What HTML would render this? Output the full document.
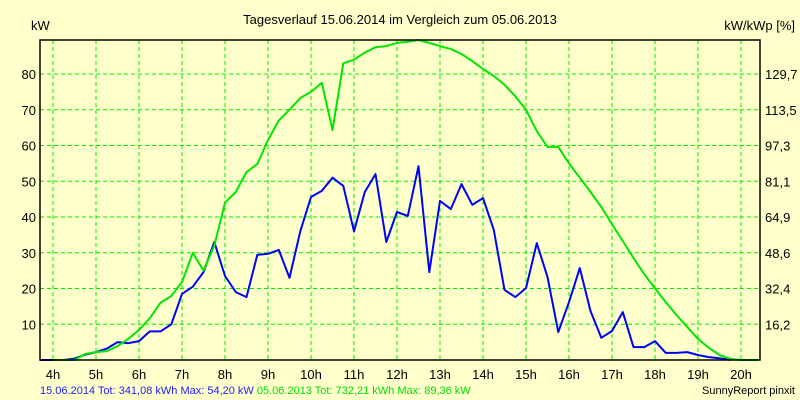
<!DOCTYPE html>
<html><head><meta charset="utf-8"><style>
body{margin:0;background:#ffffcc;}
svg{display:block;font-family:"Liberation Sans",sans-serif;}
</style></head><body>
<svg id="c" width="800" height="400">
<rect width="800" height="400" fill="#ffffcc"/>
<text x="400" y="24" font-size="13" text-anchor="middle">Tagesverlauf 15.06.2014 im Vergleich zum 05.06.2013</text>
<text x="31" y="30" font-size="13">kW</text>
<text x="795" y="30" font-size="13" text-anchor="end">kW/kWp [%]</text>
<g id="grid"></g><g id="series"></g><g id="axes"></g>
<text x="40" y="394" font-size="11"><tspan fill="#2020ff">15.06.2014 Tot: 341,08 kWh Max: 54,20 kW </tspan><tspan fill="#00dd00">05.06.2013 Tot: 732,21 kWh Max: 89,36 kW</tspan></text>
<text x="795" y="394" font-size="11" text-anchor="end">SunnyReport pinxit</text>
</svg>
<script>
const yTicks=[10,20,30,40,50,60,70,80];
const yRightLabels=["16,2","32,4","48,6","64,9","81,1","97,3","113,5","129,7"];
const xTicks=[4,5,6,7,8,9,10,11,12,13,14,15,16,17,18,19,20];
const blueTimes=[3.7,4,4.25,4.5,4.75,5,5.25,5.5,5.75,6,6.25,6.5,6.75,7,7.25,7.5,7.75,8,8.25,8.5,8.75,9,9.25,9.5,9.75,10,10.25,10.5,10.75,11,11.25,11.5,11.75,12,12.25,12.5,12.75,13,13.25,13.5,13.75,14,14.25,14.5,14.75,15,15.25,15.5,15.75,16,16.25,16.5,16.75,17,17.25,17.5,17.75,18,18.25,18.5,18.75,19,19.25,19.5,19.75];
const blueValues=[0,0,0,0.4,1.5,2.2,3.2,5,4.7,5.3,8,8,10,18.5,20.5,24.6,33,23.5,19,17.6,29.4,29.7,30.8,23,36,45.6,47.3,51,48.7,36,47,52,33,41.4,40.3,54.2,24.6,44.5,42.2,49.2,43.4,45.3,36.4,19.6,17.6,20.1,32.7,23.2,7.8,16.2,25.7,13.7,6.2,8.1,13.4,3.6,3.6,5.3,2,2,2.2,1.4,0.8,0.5,0];
const greenTimes=[4,4.25,4.5,4.75,5,5.25,5.5,5.75,6,6.25,6.5,6.75,7,7.25,7.5,7.75,8,8.25,8.5,8.75,9,9.25,9.5,9.75,10,10.25,10.5,10.75,11,11.25,11.5,11.75,12,12.25,12.5,12.75,13,13.25,13.5,13.75,14,14.25,14.5,14.75,15,15.25,15.5,15.75,16,16.25,16.5,16.75,17,17.25,17.5,17.75,18,18.25,18.5,18.75,19,19.25,19.5,19.75,20,20.4];
const greenValues=[0,0,0,1.7,2.2,2.5,3.9,5.9,8.4,11.7,16,17.9,21.8,30,25,32,44,47,52.6,54.8,61.5,67,70,73.3,75,77.5,64.3,83,84,86,87.5,87.8,88.7,89,89.5,88.7,87.8,87,85.6,83.6,81.4,79.4,77,73.8,70,64,59.6,59.6,55,51,47,42.8,38,33.3,28.5,24,20,16.2,12.6,9.2,5.9,3.4,1.4,0.3,0,0];
const L=40,R=760,T=40,B=360;
const xs=h=>53+(h-4)*43;
const ys=v=>B-v*3.575;
const NS="http://www.w3.org/2000/svg";
function mk(tag,attrs,parent){const e=document.createElementNS(NS,tag);for(const k in attrs)e.setAttribute(k,attrs[k]);parent.appendChild(e);return e;}
const grid=document.getElementById('grid'),axes=document.getElementById('axes'),series=document.getElementById('series');
yTicks.forEach((v,i)=>{
 const y=ys(v);
 const g=mk('line',{x1:L,x2:R,y1:y,y2:y,stroke:'#00ee00','stroke-dasharray':'4,3'},grid);
 
 
 const t=mk('text',{x:L-4,y:y+5,'font-size':13,'text-anchor':'end'},axes);t.textContent=v;
 
 
 const t2=mk('text',{x:R+5,y:y+5,'font-size':13},axes);t2.textContent=yRightLabels[i];
 
 
});
xTicks.forEach(h=>{
 const x=xs(h);
 const g=mk('line',{x1:x,x2:x,y1:T,y2:B,stroke:'#00ee00','stroke-dasharray':'4,3'},grid);
 
 
 const t=mk('text',{x:x,y:379,'font-size':13,'text-anchor':'middle'},axes);t.textContent=h+'h';
 
 
});
const ax=mk('path',{d:`M${L},${T}H${R}V${B}H${L}Z`,fill:'none',stroke:'#000','stroke-width':1.5},axes);


function line(ts,vs,color,name){
 const p=mk('polyline',{points:ts.map((t,i)=>xs(t).toFixed(1)+','+ys(vs[i]).toFixed(1)).join(' '),fill:'none',stroke:color,'stroke-width':2,'stroke-linejoin':'round'},series);
 
 
}
line(blueTimes,blueValues,'#0000ff','series-2014');
line(greenTimes,greenValues,'#00e600','series-2013');
</script>
</body></html>
